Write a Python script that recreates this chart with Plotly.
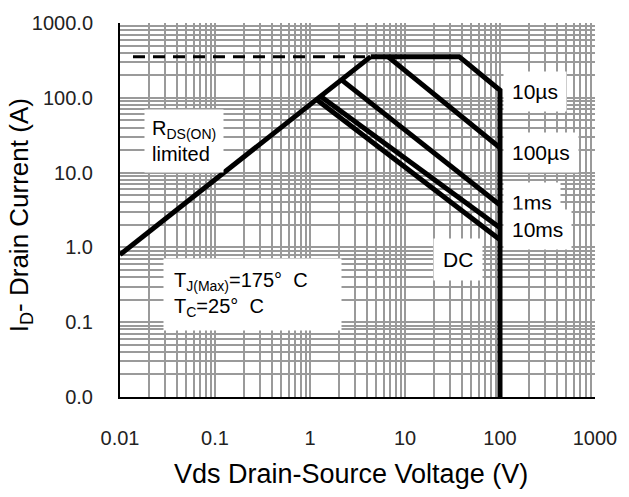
import plotly.graph_objects as go

# ---- data ----
rds_v = [0.01, 4.36]
rds_i = [0.80, 355]
lim_v = [0.0137, 4.36]
lim_i = [355, 355]
us10_v = [4.36, 37.2, 100, 100]
us10_i = [355, 355, 126, 0.01]
us100_v = [6.6, 100]
us100_i = [355, 21.5]
ms1_v = [2.13, 100]
ms1_i = [175, 3.68]
ms10_v = [1.3, 100]
ms10_i = [104, 1.83]
dc_v = [1.18, 100]
dc_i = [94, 1.27]

x_ticks = [0.01, 0.1, 1, 10, 100, 1000]
x_text = ["0.01", "0.1", "1", "10", "100", "1000"]
y_ticks = [0.01, 0.1, 1, 10, 100, 1000]
y_text = ["0.0", "0.1", "1.0", "10.0", "100.0", "1000.0"]

FONT = "Liberation Sans, Arial, sans-serif"
GRID = "#9a9a9a"

minor_x = [m * 10 ** e for e in range(-2, 3) for m in range(2, 10)]
minor_y = [m * 10 ** e for e in range(-2, 3) for m in range(2, 10)]

fig = go.Figure()
black = dict(color="black", width=5)
for xv, yv in [(rds_v, rds_i), (us10_v, us10_i), (us100_v, us100_i),
               (ms1_v, ms1_i), (ms10_v, ms10_i), (dc_v, dc_i)]:
    fig.add_trace(go.Scatter(x=xv, y=yv, mode="lines", line=black,
                             showlegend=False, hoverinfo="skip", cliponaxis=False))
fig.add_trace(go.Scatter(x=lim_v, y=lim_i, mode="lines",
                         line=dict(color="black", width=3, dash="12px,8px"),
                         showlegend=False, hoverinfo="skip"))

def label(text, x, y, xanchor="left", align="left", pad=8, size=21):
    fig.add_annotation(text=text, x=x, y=y, xref="x", yref="y",
                       xanchor=xanchor, yanchor="middle", showarrow=False,
                       align=align, bgcolor="white", borderpad=pad,
                       font=dict(family=FONT, size=size, color="black"))

label("10µs", 2.027, 2.087)
label("100µs", 2.027, 1.267)
label("1ms", 2.027, 0.606)
label("10ms", 2.027, 0.235)
label("DC", 1.561, -0.161, xanchor="center", align="center", pad=9)
label("R<sub>DS(ON)</sub><br>limited", -1.752, 1.426, pad=7, size=20)
label("T<sub>J(Max)</sub>=175°  C<br>T<sub>C</sub>=25°  C" + "&nbsp;" * 12,
      -1.545, -0.624, pad=10, size=20)

# axis titles as annotations for exact placement
fig.add_annotation(text="Vds Drain-Source Voltage (V)", xref="paper", yref="paper",
                   x=0.4855, y=-0.206, xanchor="center", yanchor="middle",
                   showarrow=False, font=dict(family=FONT, size=27, color="black"))
fig.add_annotation(text="I<sub>D</sub>- Drain Current (A)", xref="paper", yref="paper",
                   x=-0.2096, y=0.487, xanchor="center", yanchor="middle",
                   textangle=-90, showarrow=False,
                   font=dict(family=FONT, size=26, color="black"))

fig.update_layout(
    width=629, height=497,
    margin=dict(l=120, r=26, t=19, b=100),
    paper_bgcolor="white", plot_bgcolor="white",
    font=dict(family=FONT, color="black"),
    xaxis=dict(type="log", range=[-2, 3], tickvals=x_ticks, ticktext=x_text,
               showgrid=True, gridcolor=GRID, gridwidth=2,
               minor=dict(tickvals=minor_x, showgrid=True, gridcolor=GRID, gridwidth=2),
               showline=True, linecolor="black", linewidth=2, ticks="",
               ticklabelstandoff=22, tickfont=dict(size=20, color="#222222"),
               zeroline=False),
    yaxis=dict(type="log", range=[-2, 3], tickvals=y_ticks, ticktext=y_text,
               showgrid=True, gridcolor=GRID, gridwidth=2,
               minor=dict(tickvals=minor_y, showgrid=True, gridcolor=GRID, gridwidth=2),
               showline=True, linecolor="black", linewidth=2, ticks="",
               ticklabelstandoff=21, tickfont=dict(size=20, color="#222222"),
               zeroline=False),
)

fig.write_html("out.html")
